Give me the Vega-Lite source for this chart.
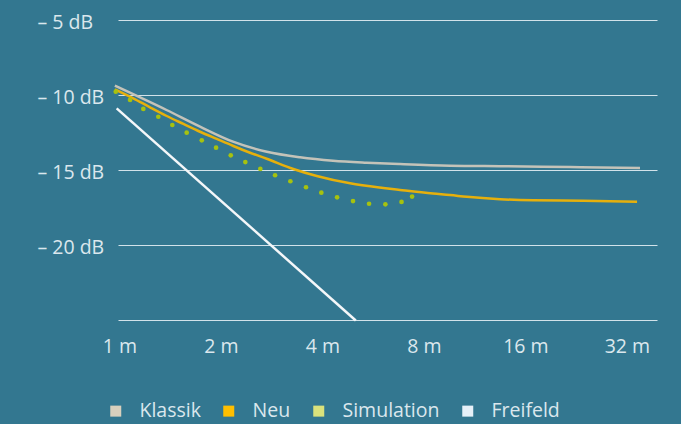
{
  "$schema": "https://vega.github.io/schema/vega-lite/v6.json",
  "width": 539,
  "height": 300,
  "autosize": {"type": "none"},
  "padding": {"left": 118, "top": 20, "right": 24, "bottom": 104},
  "background": "#337790",
  "config": {"view": {"stroke": null}},
  "data": {
    "values": [
      {"series": "Klassik", "m": 0.97, "db": -9.38},
      {"series": "Klassik", "m": 1.38, "db": -11.0},
      {"series": "Klassik", "m": 1.735, "db": -12.11},
      {"series": "Klassik", "m": 2.173, "db": -13.11},
      {"series": "Klassik", "m": 2.737, "db": -13.78},
      {"series": "Klassik", "m": 3.434, "db": -14.15},
      {"series": "Klassik", "m": 4.302, "db": -14.38},
      {"series": "Klassik", "m": 5.415, "db": -14.51},
      {"series": "Klassik", "m": 6.8, "db": -14.6},
      {"series": "Klassik", "m": 9.566, "db": -14.71},
      {"series": "Klassik", "m": 13.46, "db": -14.75},
      {"series": "Klassik", "m": 21.7, "db": -14.8},
      {"series": "Klassik", "m": 35.0, "db": -14.87},
      {"series": "Neu", "m": 0.97, "db": -9.62},
      {"series": "Neu", "m": 1.1, "db": -10.22},
      {"series": "Neu", "m": 1.233, "db": -10.82},
      {"series": "Neu", "m": 1.382, "db": -11.4},
      {"series": "Neu", "m": 1.549, "db": -11.93},
      {"series": "Neu", "m": 1.735, "db": -12.45},
      {"series": "Neu", "m": 1.945, "db": -12.93},
      {"series": "Neu", "m": 2.178, "db": -13.4},
      {"series": "Neu", "m": 2.442, "db": -13.85},
      {"series": "Neu", "m": 2.736, "db": -14.25},
      {"series": "Neu", "m": 3.281, "db": -14.93},
      {"series": "Neu", "m": 3.85, "db": -15.4},
      {"series": "Neu", "m": 4.834, "db": -15.89},
      {"series": "Neu", "m": 6.066, "db": -16.2},
      {"series": "Neu", "m": 6.802, "db": -16.33},
      {"series": "Neu", "m": 8.52, "db": -16.57},
      {"series": "Neu", "m": 9.566, "db": -16.67},
      {"series": "Neu", "m": 10.72, "db": -16.79},
      {"series": "Neu", "m": 13.46, "db": -16.95},
      {"series": "Neu", "m": 16.87, "db": -17.02},
      {"series": "Neu", "m": 23.74, "db": -17.05},
      {"series": "Neu", "m": 34.3, "db": -17.11},
      {"series": "Simulation", "m": 0.976, "db": -9.78},
      {"series": "Simulation", "m": 1.076, "db": -10.33},
      {"series": "Simulation", "m": 1.178, "db": -10.93},
      {"series": "Simulation", "m": 1.305, "db": -11.45},
      {"series": "Simulation", "m": 1.436, "db": -12.0},
      {"series": "Simulation", "m": 1.584, "db": -12.51},
      {"series": "Simulation", "m": 1.756, "db": -13.02},
      {"series": "Simulation", "m": 1.936, "db": -13.51},
      {"series": "Simulation", "m": 2.14, "db": -14.02},
      {"series": "Simulation", "m": 2.364, "db": -14.47},
      {"series": "Simulation", "m": 2.619, "db": -14.93},
      {"series": "Simulation", "m": 2.896, "db": -15.35},
      {"series": "Simulation", "m": 3.215, "db": -15.75},
      {"series": "Simulation", "m": 3.578, "db": -16.15},
      {"series": "Simulation", "m": 3.972, "db": -16.51},
      {"series": "Simulation", "m": 4.423, "db": -16.82},
      {"series": "Simulation", "m": 4.931, "db": -17.07},
      {"series": "Simulation", "m": 5.502, "db": -17.25},
      {"series": "Simulation", "m": 6.151, "db": -17.29},
      {"series": "Simulation", "m": 6.868, "db": -17.13},
      {"series": "Simulation", "m": 7.382, "db": -16.77},
      {"series": "Freifeld", "m": 0.982, "db": -10.89},
      {"series": "Freifeld", "m": 5.025, "db": -25.03}
    ]
  },
  "encoding": {
    "x": {
      "field": "m",
      "type": "quantitative",
      "scale": {"type": "log", "base": 2, "domain": [0.991, 39.3], "nice": false},
      "axis": {
        "title": null,
        "values": [1, 2, 4, 8, 16, 32],
        "labelExpr": "datum.value + ' m'",
        "grid": false,
        "domain": false,
        "ticks": false,
        "tickSize": 0,
        "labelPadding": 17,
        "labelFlush": false,
        "labelOverlap": false,
        "labelFont": "Open Sans",
        "labelFontWeight": 400,
        "labelFontSize": 19.5,
        "labelColor": "#dbe7ed"
      }
    },
    "y": {
      "field": "db",
      "type": "quantitative",
      "scale": {"domain": [-25, -5], "nice": false, "zero": false},
      "axis": {
        "title": null,
        "values": [-25, -20, -15, -10, -5],
        "labelExpr": "datum.value === -25 ? '' : '– ' + abs(datum.value) + ' dB'",
        "grid": true,
        "gridColor": "#d2e2ea",
        "gridWidth": 1,
        "gridOpacity": 1,
        "domain": false,
        "ticks": false,
        "tickSize": 0,
        "labelAlign": "left",
        "labelBaseline": "middle",
        "labelPadding": 81,
        "labelOffset": 2,
        "labelFont": "Open Sans",
        "labelFontWeight": 400,
        "labelFontSize": 19.5,
        "labelColor": "#dbe7ed"
      }
    }
  },
  "layer": [
    {
      "transform": [{"filter": "datum.series !== 'Simulation'"}],
      "mark": {"type": "line", "strokeWidth": 2.5, "interpolate": "monotone"},
      "encoding": {
        "color": {
          "field": "series",
          "type": "nominal",
          "scale": {
            "domain": ["Klassik", "Neu", "Simulation", "Freifeld"],
            "range": ["#c4c3b9", "#e6b00c", "#a6c20f", "#f4f7f9"]
          },
          "legend": {
            "title": null,
            "orient": "none",
            "legendX": -12,
            "legendY": 381,
            "direction": "horizontal",
            "padding": 0,
            "labelFont": "Open Sans",
            "labelFontWeight": 400,
            "labelFontSize": 19.5,
            "labelColor": "#dbe7ed",
            "labelOffset": 14,
            "columnPadding": 18,
            "symbolSize": 121,
            "symbolType": "square",
            "encode": {
              "symbols": {
                "update": {
                  "fill": {"signal": "datum.value === 'Klassik' ? '#d9d0bd' : datum.value === 'Neu' ? '#ffbf00' : datum.value === 'Simulation' ? '#dae27c' : '#e6f0f8'"},
                  "fillOpacity": {"value": 1},
                  "strokeWidth": {"value": 0},
                  "shape": {"value": "square"},
                  "size": {"value": 121}
                }
              }
            }
          }
        }
      }
    },
    {
      "transform": [{"filter": "datum.series === 'Simulation'"}],
      "mark": {"type": "point", "filled": true, "size": 22, "opacity": 1, "strokeWidth": 0},
      "encoding": {
        "fill": {
          "field": "series",
          "type": "nominal",
          "scale": {"domain": ["Simulation"], "range": ["#a6c20f"]},
          "legend": null
        }
      }
    }
  ]
}
